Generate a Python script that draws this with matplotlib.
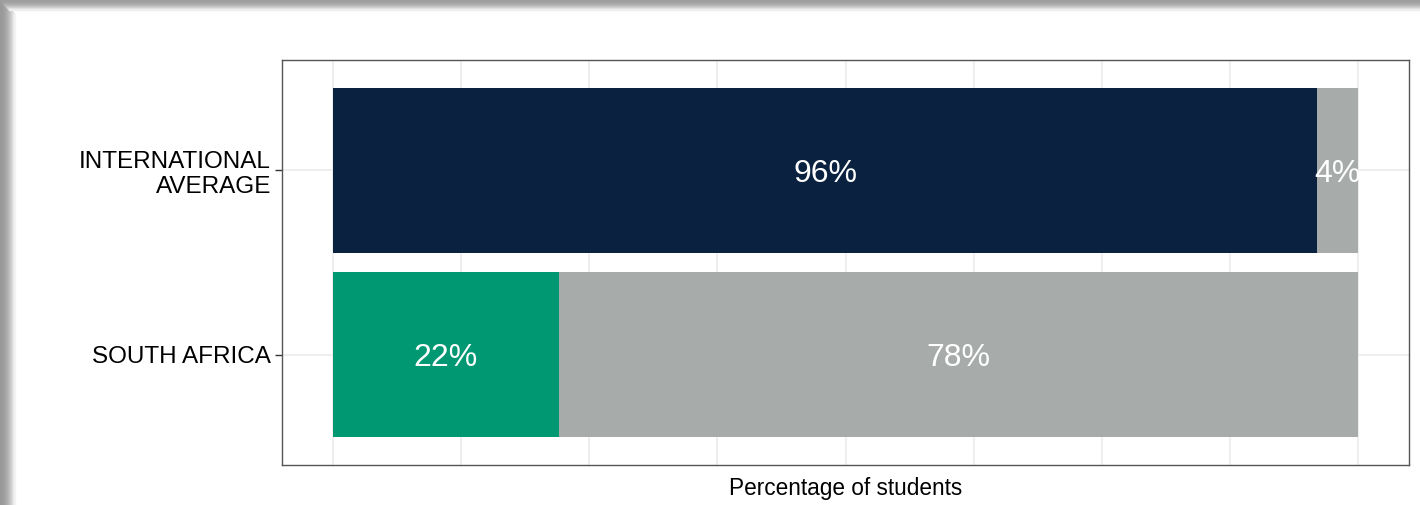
import matplotlib.pyplot as plt
import matplotlib.patches as mpatches
from matplotlib.ticker import MultipleLocator, NullFormatter
import numpy as np

plt.rcParams['font.family'] = ['Liberation Sans', 'DejaVu Sans']

# Shares of students per group
groups = ['SOUTH AFRICA', 'INTERNATIONAL\nAVERAGE']
share_yes = [22, 96]
share_no = [78, 4]
colors_yes = ['#009873', '#0A2240']
color_no = '#A7ACAB'

fig = plt.figure(figsize=(14.2, 5.05), dpi=100)

# shadowed frame around the figure
for i in range(15):
    shade = 0.6 + 0.4 * (i / 15) ** 2
    fig.patches.append(mpatches.Rectangle((i / 1420, 0), 1 / 1420, 1 - i / 505,
                                          transform=fig.transFigure,
                                          color=(shade, shade, shade), zorder=0))
for i in range(10):
    shade = 0.62 + 0.38 * (i / 10) ** 2
    fig.patches.append(mpatches.Rectangle((i / 1420, 1 - (i + 1) / 505), 1 - i / 1420, 1 / 505,
                                          transform=fig.transFigure,
                                          color=(shade, shade, shade), zorder=0))

ax = fig.add_axes([282 / 1420, 1 - 465 / 505, (1409 - 282) / 1420, (465 - 60) / 505])

y = np.arange(1, len(groups) + 1)
ax.barh(y, share_yes, height=0.9, color=colors_yes, zorder=2)
ax.barh(y, share_no, left=share_yes, height=0.9, color=color_no, zorder=2)

for yi, a, b in zip(y, share_yes, share_no):
    ax.text(a / 2, yi, f'{a}%', ha='center', va='center_baseline', color='white', fontsize=23, zorder=3)
    ax.text(a + b / 2, yi, f'{b}%', ha='center', va='center_baseline', color='white', fontsize=23, zorder=3)

ax.set_xlim(-5, 105)
ax.set_ylim(0.4, 2.6)
ax.xaxis.set_major_locator(MultipleLocator(25))
ax.xaxis.set_minor_locator(MultipleLocator(12.5))
ax.xaxis.set_major_formatter(NullFormatter())
ax.tick_params(axis='x', which='both', length=0)
ax.grid(True, which='both', axis='x', color='#EBEBEB', linewidth=1.2, zorder=0)
ax.grid(True, which='major', axis='y', color='#EBEBEB', linewidth=1.2, zorder=0)
ax.set_axisbelow(True)

ax.set_yticks(y)
ax.set_yticklabels(groups, fontsize=17.5, color='black', linespacing=1.15)
ax.tick_params(axis='y', length=5, width=1, color='#333333', pad=3)

for s in ax.spines.values():
    s.set_color('#555555')
    s.set_linewidth(1.0)

ax.set_xlabel('Percentage of students', fontsize=16.3, labelpad=5)

fig.savefig('out.png', dpi=100)
